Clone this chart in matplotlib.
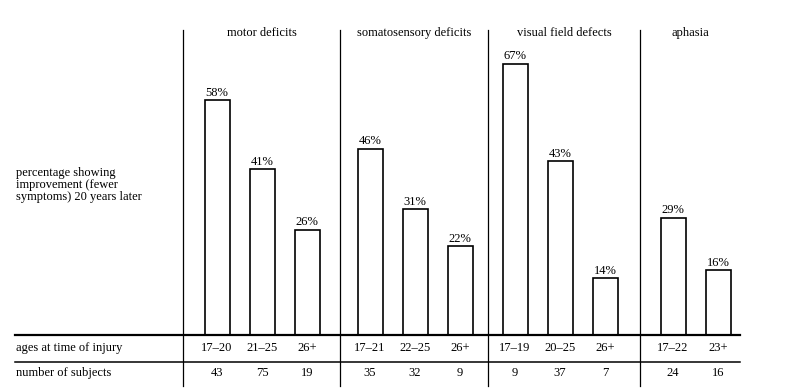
import matplotlib
matplotlib.use("Agg")
import matplotlib.pyplot as plt

# Data
groups = ["motor deficits", "somatosensory deficits", "visual field defects", "aphasia"]
ages = [["17–20", "21–25", "26+"],
        ["17–21", "22–25", "26+"],
        ["17–19", "20–25", "26+"],
        ["17–22", "23+"]]
pct = [[58, 41, 26],
       [46, 31, 22],
       [67, 43, 14],
       [29, 16]]
subjects = [[43, 75, 19],
            [35, 32, 9],
            [9, 37, 7],
            [24, 16]]

# Layout (pixel-like x units, y in percent)
W, H = 800, 390
PX = 4.05                 # pixels per percent
BASE = 335                # baseline, pixels from top
dividers = [183, 340, 488, 640]
first_off = [34, 30, 27, 33]
step = 45
bar_w = 25

FONT = ["Liberation Serif", "DejaVu Serif"]
FS = 9

def ypix(p):
    return (BASE - p) / PX

fig = plt.figure(figsize=(W / 100, H / 100), dpi=100)
ax = fig.add_axes([0, 0, 1, 1])
ax.set_xlim(0, W)
ax.set_ylim(-(H - BASE) / PX, BASE / PX)
ax.axis("off")

for g, name in enumerate(groups):
    x0 = dividers[g] + first_off[g]
    xs = [x0 + i * step for i in range(len(pct[g]))]
    ax.bar(xs, pct[g], width=bar_w, bottom=0, facecolor="white",
           edgecolor="black", linewidth=1.2, zorder=3)
    for x, v, a, n in zip(xs, pct[g], ages[g], subjects[g]):
        ax.text(x, v + 0.3, f"{v}%", ha="center", va="bottom",
                fontsize=FS, family=FONT)
        ax.text(x, ypix(348), a, ha="center", va="center",
                fontsize=FS, family=FONT)
        ax.text(x, ypix(373), str(n), ha="center", va="center",
                fontsize=FS, family=FONT)
    # group title
    right = dividers[g + 1] if g + 1 < len(dividers) else 740
    ax.text((dividers[g] + right) / 2, ypix(33), name, ha="center",
            va="center", fontsize=FS, family=FONT)
    # divider
    ax.plot([dividers[g], dividers[g]], [ypix(30), ypix(386)],
            color="black", linewidth=0.9, zorder=2)

# table rules
ax.plot([15, 740], [0, 0], color="black", linewidth=1.6, zorder=4)
ax.plot([15, 740], [ypix(362), ypix(362)], color="black", linewidth=1.1, zorder=4)

ax.text(16, ypix(348), "ages at time of injury", ha="left", va="center",
        fontsize=FS, family=FONT)
ax.text(16, ypix(373), "number of subjects", ha="left", va="center",
        fontsize=FS, family=FONT)
ax.text(16, ypix(185), "percentage showing\nimprovement (fewer\nsymptoms) 20 years later",
        ha="left", va="center", fontsize=FS, family=FONT, linespacing=1.0)

fig.savefig("out.png", dpi=100)
